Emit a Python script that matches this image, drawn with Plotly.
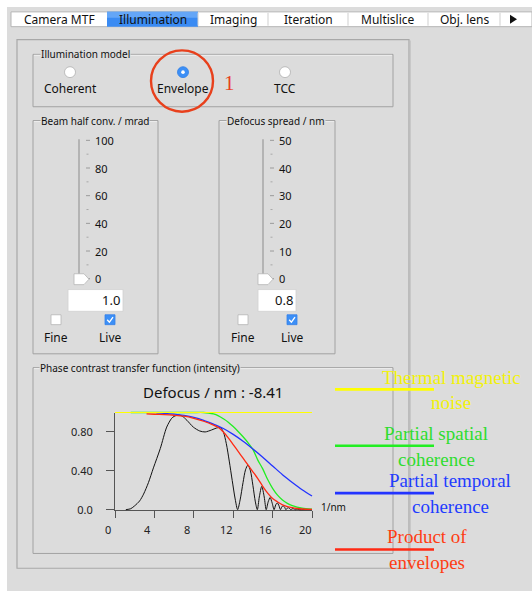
import plotly.graph_objects as go

W, H = 532, 598
GUI = "Noto Sans"
SERIF = "Liberation Serif"
BG = "#dcdcdc"

# ---------------- data ----------------
x_tick_vals = [0, 4, 8, 12, 16, 20]
x_tick_text = ["0", "4", "8", "12", "16", "20"]
y_tick_vals = [0.0, 0.4, 0.8]
y_tick_text = ["0.0", "0.40", "0.80"]

noise_x = [0, 20]
noise_y = [1.0, 1.0]

spatial_x = [1.6, 3, 5, 7, 8, 9, 9.5, 10, 10.5, 11, 11.5, 12, 12.5, 13, 13.5, 14,
             14.5, 15, 15.5, 16, 16.5, 17, 17.5, 18, 19, 20]
spatial_y = [1.0, 1.0, 1.0, 1.0, 1.0, 1.0, 0.995, 0.985, 0.965, 0.935, 0.90, 0.855,
             0.805, 0.75, 0.69, 0.62, 0.51, 0.42, 0.31, 0.22, 0.15, 0.10, 0.065,
             0.042, 0.015, 0.005]

temporal_x = [4.2, 5, 6, 7, 8, 9, 10, 11, 12, 13, 14, 15, 16, 17, 18, 19, 20]
temporal_y = [0.996, 0.992, 0.984, 0.97, 0.95, 0.92, 0.88, 0.835, 0.775, 0.705,
              0.625, 0.54, 0.45, 0.36, 0.28, 0.205, 0.14]

product_x = [3.2, 4, 5, 6, 7, 8, 9, 10, 10.5, 11, 11.5, 12, 12.5, 13, 13.5, 14,
             14.5, 15, 15.5, 16, 16.5, 17, 17.5, 18, 18.5, 19, 20]
product_y = [0.985, 0.982, 0.978, 0.972, 0.962, 0.94, 0.91, 0.87, 0.845, 0.80,
             0.74, 0.67, 0.60, 0.53, 0.46, 0.39, 0.32, 0.24, 0.17, 0.115, 0.08,
             0.05, 0.032, 0.02, 0.012, 0.007, 0.003]

pctf_x = [1.1, 1.6, 2.0, 2.5, 2.9, 3.4, 3.9, 4.6, 5.25, 5.75, 6.0, 6.4, 6.8, 7.3,
          7.95, 8.6, 9.15, 9.8, 10.3, 10.7, 11.0, 11.3, 11.6, 11.9, 12.2, 12.45,
          12.7, 13.0, 13.25, 13.5, 13.75, 14.0, 14.25, 14.45,
          14.65, 14.9, 15.15, 15.35, 15.55, 15.75, 15.95, 16.15,
          16.32, 16.48, 16.65, 16.8, 16.95, 17.08, 17.22, 17.35,
          17.48, 17.6, 17.72, 17.85, 17.97, 18.08, 18.2, 18.3, 18.4, 18.5, 18.6,
          18.7, 19.2, 20.0]
pctf_y = [0.0, 0.01, 0.04, 0.09, 0.16, 0.28, 0.43, 0.63, 0.85, 0.94, 0.96, 0.975,
          0.965, 0.92, 0.85, 0.81, 0.80, 0.82, 0.84, 0.845, 0.80, 0.68, 0.50,
          0.30, 0.11, 0.0,
          0.10, 0.28, 0.41, 0.46, 0.40, 0.25, 0.08, 0.0,
          0.13, 0.24, 0.13, 0.0, 0.08, 0.125, 0.07, 0.0,
          0.05, 0.07, 0.04, 0.0, 0.03, 0.04, 0.025, 0.0,
          0.015, 0.02, 0.012, 0.0, 0.008, 0.01, 0.006, 0.0, 0.004, 0.005, 0.003,
          0.0, 0.0, 0.0]

tab_names = ["Camera MTF", "Illumination", "Imaging", "Iteration", "Multislice", "Obj. lens"]
tab_edges = [11, 107, 198, 268, 348, 428, 500]
radio_labels = ["Coherent", "Envelope", "TCC"]
beam_scale = ["100", "80", "60", "40", "20", "0"]
spread_scale = ["50", "40", "30", "20", "10", "0"]
legend_labels = [("Thermal magnetic", "noise"), ("Partial spatial", "coherence"),
                 ("Partial temporal", "coherence"), ("Product of", "envelopes")]
legend_colors = ["#f2f20a", "#2fdc2f", "#1f3cff", "#ff3c12"]
curve_colors = ["#ffff00", "#22ee22", "#2233ff", "#ff2a14"]

# ---------------- helpers ----------------
def fx(X):
    return X / W


def fy(Y):
    return 1 - Y / H


shapes = []
annotations = []


def rect(x0, y0, x1, y1, fill=None, line=None, lw=1.0):
    shapes.append(dict(type="rect", xref="paper", yref="paper",
                       x0=fx(x0), x1=fx(x1), y0=fy(y1), y1=fy(y0),
                       fillcolor=fill or "rgba(0,0,0,0)",
                       line=dict(color=line or "rgba(0,0,0,0)", width=lw if line else 0),
                       layer="below"))


def seg(x0, y0, x1, y1, color, lw=1.0, layer="below"):
    shapes.append(dict(type="line", xref="paper", yref="paper",
                       x0=fx(x0), x1=fx(x1), y0=fy(y0), y1=fy(y1),
                       line=dict(color=color, width=lw), layer=layer))


def circ(cx, cy, r, fill=None, line=None, lw=1.0, layer="below"):
    shapes.append(dict(type="circle", xref="paper", yref="paper",
                       x0=fx(cx - r), x1=fx(cx + r), y0=fy(cy + r), y1=fy(cy - r),
                       fillcolor=fill or "rgba(0,0,0,0)",
                       line=dict(color=line or "rgba(0,0,0,0)", width=lw if line else 0),
                       layer=layer))


def path(pts, fill=None, line=None, lw=1.0, closed=True, layer="below"):
    d = "M " + " L ".join(f"{fx(a):.5f},{fy(b):.5f}" for a, b in pts)
    if closed:
        d += " Z"
    shapes.append(dict(type="path", xref="paper", yref="paper", path=d,
                       fillcolor=fill or "rgba(0,0,0,0)",
                       line=dict(color=line or "rgba(0,0,0,0)", width=lw if line else 0),
                       layer=layer))


def text(s, X, Y, size=12, color="#111111", family=GUI, xanchor="center", bg=None):
    a = dict(text=s, x=fx(X), y=fy(Y), xref="paper", yref="paper", showarrow=False,
             font=dict(size=size, color=color, family=family),
             xanchor=xanchor, yanchor="middle", borderpad=0)
    if bg:
        a["bgcolor"] = bg
    annotations.append(a)


def group(x0, y0, x1, y1, title, tx):
    rect(x0, y0, x1, y1, line="#a2a2a2", lw=1)
    seg(x0 + 1, y0 + 1, x1 - 1, y0 + 1, "#eeeeee", 1)
    text(title, tx, y0, size=10, xanchor="left", bg=BG)


# ---------------- background / frame ----------------
rect(7, 7, 532, 598, fill=BG)
# tab bar
rect(11, 12, 532, 27, fill="white", line="#b5b5b5", lw=1)
rect(tab_edges[1], 12, tab_edges[2], 27, fill="#3a8bf3")
rect(tab_edges[1], 12, tab_edges[2], 18, fill="#64a6f7")
for e in tab_edges[2:]:
    seg(e, 13, e, 26, "#cfcfcf", 1)
for i, name in enumerate(tab_names):
    text(name, (tab_edges[i] + tab_edges[i + 1]) / 2, 19.5, size=12, color="#111111")
path([(510, 15), (517, 19.5), (510, 24)], fill="#111111")

# main panel
rect(17, 40, 409, 575, line="#a8a8a8", lw=1.2)
seg(410.5, 41, 410.5, 576, "#c8c8c8", 1)

# illumination model group
group(33, 55, 393, 108, "Illumination model", 40)
radio_x = [70, 183, 285]
for i, (rx, lab) in enumerate(zip(radio_x, radio_labels)):
    if i == 1:
        circ(rx, 73, 5.5, fill="#3c8ff6", line="#2f7fe6", lw=0.8)
        circ(rx, 73, 1.8, fill="white")
    else:
        circ(rx, 73, 5.5, fill="white", line="#b0b0b0", lw=0.8)
    text(lab, rx, 90, size=12)
# red annotation circle and number
circ(182, 82, 31, line="#e8401c", lw=2.4, layer="above")
text("1", 229, 84, size=21, color="#e8401c", family=SERIF)


# slider groups
def slider_group(x0, x1, title, tx, track_x, labels, value, box, fine_x, live_x):
    group(x0, 122, x1, 358, title, tx)
    seg(track_x, 141, track_x, 282, "#b4b4b4", 2)
    for k in range(6):
        yy = 142 + k * 28
        seg(track_x + 7, yy, track_x + 11, yy, "#9a9a9a", 1)
        text(labels[k], track_x + 15, yy, size=11, xanchor="left")
        if k < 5:
            seg(track_x + 7.5, yy + 14, track_x + 9.5, yy + 14, "#a8a8a8", 1)
    path([(track_x - 5, 277), (track_x + 5, 277), (track_x + 10, 282.5),
          (track_x + 5, 288), (track_x - 5, 288)], fill="white", line="#b5b5b5", lw=0.8)
    rect(box[0], 293, box[1], 315, fill="white", line="#d0d0d0", lw=0.8)
    text(value, box[1] - 2, 304, size=13, xanchor="right")
    rect(fine_x - 5, 318.5, fine_x + 5, 328.5, fill="white", line="#b5b5b5", lw=0.8)
    rect(live_x - 5, 318.5, live_x + 5, 328.5, fill="#3c8ff6", line="#3380ea", lw=0.8)
    path([(live_x - 2.8, 323.5), (live_x - 0.6, 326), (live_x + 3, 320.8)],
         line="white", lw=1.3, closed=False)
    text("Fine", fine_x, 341, size=12)
    text("Live", live_x, 341, size=12)


slider_group(33, 158, "Beam half conv. / mrad", 40, 79, beam_scale, "1.0", (68, 123), 56, 110)
slider_group(219, 335, "Defocus spread / nm", 226, 263, spread_scale, "0.8", (258, 296), 243, 292)

# PCTF group
group(33, 372, 393, 560, "Phase contrast transfer function (intensity)", 39)
text("Defocus / nm : -8.41", 213, 397, size=15, color="#111111")
text("1/nm", 320, 513, size=10, xanchor="left")

# legend (lines + labels)
leg_line_y = [394, 451, 499, 556]
leg_text_c = [451, 436, 450, 427]
leg_l1_y = [383, 440, 487, 544]
leg_l2_y = [408, 466, 513, 570]
for (l1, l2), c, cc, ly, tcx, y1, y2 in zip(legend_labels, legend_colors, curve_colors,
                                            leg_line_y, leg_text_c, leg_l1_y, leg_l2_y):
    seg(335, ly, 434, ly, cc, 2.6, layer="above")
    text(l1, tcx, y1 - 1, size=19, color=c, family=SERIF)
    text(l2, tcx, y2 - 1, size=19, color=c, family=SERIF)

# ---------------- chart ----------------
X0, SX = 115.0, 9.85
Y0, SY = 515.7, 98.3

fig = go.Figure()
traces = [(pctf_x, pctf_y, "#111111", 1.0, "PCTF"),
          (spatial_x, spatial_y, curve_colors[1], 1.3, "Partial spatial coherence"),
          (temporal_x, temporal_y, curve_colors[2], 1.3, "Partial temporal coherence"),
          (product_x, product_y, curve_colors[3], 1.3, "Product of envelopes"),
          (noise_x, noise_y, curve_colors[0], 1.2, "Thermal magnetic noise")]
for xs, ys, col, lw, nm in traces:
    fig.add_trace(go.Scatter(x=xs, y=ys, mode="lines", name=nm,
                             line=dict(color=col, width=lw, shape="spline", smoothing=0.8),
                             xaxis="x2", yaxis="y2", hoverinfo="skip"))

# invisible anchor trace for the visible axes
fig.add_trace(go.Scatter(x=[0, 20], y=[0, 1], mode="markers", marker=dict(opacity=0),
                         showlegend=False, hoverinfo="skip", xaxis="x", yaxis="y"))

axis_font = dict(size=11, family=GUI, color="#222222")
# x tick labels sit slightly left of their ticks in the original
for v, t in zip(x_tick_vals, x_tick_text):
    annotations.append(dict(text=t, x=v, y=0, xref="x", yref="y", showarrow=False,
                            xanchor="center", yanchor="top", xshift=-7, yshift=-10,
                            font=axis_font))

pad_x, pad_y = 1.0, 0.05
fig.update_layout(
    width=W, height=H, autosize=False,
    margin=dict(l=0, r=0, t=0, b=0, pad=0),
    paper_bgcolor="white", plot_bgcolor="rgba(0,0,0,0)",
    showlegend=False,
    xaxis=dict(domain=[X0 / W, (X0 + 20 * SX) / W], range=[0, 20], anchor="y",
               showline=True, linecolor="#555555", linewidth=1,
               ticks="outside", ticklen=7, tickcolor="#555555", tickwidth=1,
               tickvals=x_tick_vals, ticktext=x_tick_text, showticklabels=False,
               showgrid=False, zeroline=False, fixedrange=True),
    yaxis=dict(domain=[1 - Y0 / H, 1 - (Y0 - SY) / H], range=[0, 1], anchor="x",
               showline=True, linecolor="#555555", linewidth=1,
               ticks="outside", ticklen=8, tickcolor="#555555", tickwidth=1,
               tickvals=y_tick_vals, ticktext=y_tick_text, tickfont=axis_font,
               ticklabelstandoff=11,
               showgrid=False, zeroline=False, fixedrange=True),
    xaxis2=dict(domain=[(X0 - pad_x * SX) / W, (X0 + (20 + pad_x) * SX) / W],
                range=[-pad_x, 20 + pad_x], anchor="y2", visible=False, fixedrange=True),
    yaxis2=dict(domain=[1 - (Y0 + pad_y * SY) / H, 1 - (Y0 - (1 + pad_y) * SY) / H],
                range=[-pad_y, 1 + pad_y], anchor="x2", visible=False, fixedrange=True),
    shapes=shapes,
    annotations=annotations,
)

fig.write_html("out.html", config={"displayModeBar": False},
               post_script="document.body.style.margin='0';")
